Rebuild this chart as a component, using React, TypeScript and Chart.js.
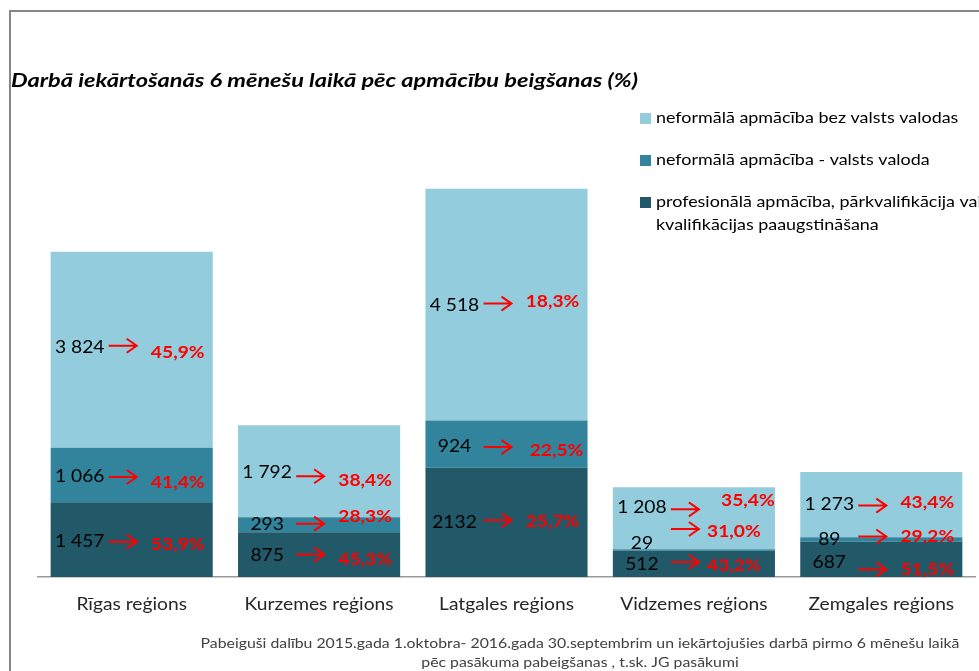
import React, { useEffect, useRef } from "react";
import { Chart, registerables } from "chart.js";

Chart.register(...registerables);

const categories = ["Rīgas reģions", "Kurzemes reģions", "Latgales reģions", "Vidzemes reģions", "Zemgales reģions"];

// series values (bottom to top in stack)
const profValues = [1457, 875, 2132, 512, 687];
const valstsValues = [1066, 293, 924, 29, 89];
const bezValues = [3824, 1792, 4518, 1208, 1273];

// displayed count labels
const profText = ["1 457", "875", "2132", "512", "687"];
const valstsText = ["1 066", "293", "924", "29", "89"];
const bezText = ["3 824", "1 792", "4 518", "1 208", "1 273"];

// displayed percentage labels
const profPct = ["53,9%", "45,3%", "25,7%", "43,2%", "51,5%"];
const valstsPct = ["41,4%", "28,3%", "22,5%", "31,0%", "29,2%"];
const bezPct = ["45,9%", "38,4%", "18,3%", "35,4%", "43,4%"];

const seriesNames = [
  ["profesionālā apmācība, pārkvalifikācija vai", "kvalifikācijas paaugstināšana"],
  ["neformālā apmācība - valsts valoda"],
  ["neformālā apmācība bez valsts valodas"],
];

const titleText = "Darbā iekārtošanās 6 mēnešu laikā pēc apmācību beigšanas (%)";
const footLines = [
  "Pabeiguši dalību 2015.gada 1.oktobra- 2016.gada 30.septembrim un iekārtojušies darbā pirmo 6 mēnešu laikā",
  "pēc pasākuma pabeigšanas , t.sk. JG pasākumi",
];

const colors = ["#215968", "#31849B", "#93CDDD"];
const FONT = "Lato, 'Open Sans', sans-serif";
const SX = 1.13; // horizontal stretch to mimic the wider original typeface

// label vertical shifts relative to segment centre: [number, arrow, percent]
const labelShift = [
  [[2, 2, 5], [1, 0, 5], [0, -2, -1], [1, -2, 2], [3, 10, 10]],
  [[2, 2, 8], [0, -1, -8], [2, 3, 6], [-7, -21, -19], [0, -3, -3]],
  [[-2, -4, 3], [1, 5, 9], [1, -1, -3], [-11, -9, -18], [0, 1, -2]],
];
const pctDx = [
  [0, 0, 0, -6, 0],
  [0, 0, 4, -6, 0],
  [0, 0, 0, 8, 0],
];

const texts = [profText, valstsText, bezText];
const pcts = [profPct, valstsPct, bezPct];

function drawText(ctx: CanvasRenderingContext2D, text: string, x: number, y: number, font: string, color: string, align: CanvasTextAlign, sx: number) {
  ctx.save();
  ctx.font = font;
  ctx.fillStyle = color;
  ctx.textAlign = align;
  ctx.textBaseline = "middle";
  ctx.translate(x, y);
  ctx.scale(sx, 1);
  ctx.fillText(text, 0, 0);
  ctx.restore();
}

const decorPlugin = {
  id: "decor",
  afterDatasetsDraw(chart: any) {
    const ctx = chart.ctx;
    ctx.save();
    chart.data.datasets.forEach((ds: any, i: number) => {
      const meta = chart.getDatasetMeta(i);
      meta.data.forEach((bar: any, j: number) => {
        const cy = (bar.y + bar.base) / 2;
        const sh = labelShift[i][j];
        const cx = bar.x;
        drawText(ctx, texts[i][j], cx - 52, cy + sh[0], `17px ${FONT}`, "#000", "center", SX);
        const ay = cy + sh[1];
        const x1 = cx - 23;
        const x2 = cx + 5;
        ctx.strokeStyle = "#FF0000";
        ctx.lineWidth = 2;
        ctx.beginPath();
        ctx.moveTo(x1, ay);
        ctx.lineTo(x2, ay);
        ctx.moveTo(x2 - 10, ay - 7);
        ctx.lineTo(x2, ay);
        ctx.lineTo(x2 - 10, ay + 7);
        ctx.stroke();
        drawText(ctx, pcts[i][j], cx + 46 + pctDx[i][j], cy + sh[2], `bold 17px ${FONT}`, "#FF0000", "center", SX);
      });
    });
    ctx.restore();
  },
  afterDraw(chart: any) {
    const ctx = chart.ctx;
    ctx.save();
    // frame
    ctx.strokeStyle = "#878787";
    ctx.lineWidth = 2;
    ctx.beginPath();
    ctx.moveTo(10, 700);
    ctx.lineTo(10, 11);
    ctx.lineTo(1000, 11);
    ctx.stroke();
    // title
    const tFont = `italic bold 18px ${FONT}`;
    ctx.font = tFont;
    const tw = ctx.measureText(titleText).width;
    drawText(ctx, titleText, 11, 81, tFont, "#000", "left", 627 / tw);
    // category labels from the x scale
    const xs = chart.scales.x;
    categories.forEach((c, j) => {
      drawText(ctx, c, xs.getPixelForValue(j), 605, `17px ${FONT}`, "#262626", "center", SX);
    });
    // legend (reverse order)
    const legendY = [118, 160, 202];
    const order = [2, 1, 0];
    order.forEach((dsIndex, k) => {
      const y = legendY[k];
      ctx.fillStyle = colors[dsIndex];
      ctx.fillRect(640, y - 5, 11, 11);
      seriesNames[dsIndex].forEach((line, li) => {
        drawText(ctx, line, 656, y + li * 23, `16px ${FONT}`, "#000", "left", 1.12);
      });
    });
    // footnote
    drawText(ctx, footLines[0], 580, 643, `14px ${FONT}`, "#404040", "center", SX);
    drawText(ctx, footLines[1], 580, 662, `14px ${FONT}`, "#404040", "center", SX);
    ctx.restore();
  },
};

export default function App() {
  const ref = useRef<HTMLCanvasElement>(null);
  useEffect(() => {
    document.body.style.margin = "0";
    const chart = new Chart(ref.current as HTMLCanvasElement, {
      type: "bar",
      data: {
        labels: categories,
        datasets: [
          { label: seriesNames[0].join(" "), data: profValues, backgroundColor: colors[0] },
          { label: seriesNames[1].join(" "), data: valstsValues, backgroundColor: colors[1] },
          { label: seriesNames[2].join(" "), data: bezValues, backgroundColor: colors[2] },
        ],
      },
      options: {
        responsive: false,
        animation: false,
        layout: { padding: { left: 38, right: 4, top: 167, bottom: 0 } },
        plugins: { legend: { display: false }, tooltip: { enabled: false }, title: { display: false } },
        datasets: { bar: { categoryPercentage: 1, barPercentage: 0.865 } },
        scales: {
          x: {
            stacked: true,
            grid: { display: false, drawTicks: false },
            border: { display: true, color: "#9a9a9a", width: 1.5 },
            ticks: { display: false },
            afterFit: (scale: any) => {
              scale.height = 94;
            },
          },
          y: {
            stacked: true,
            display: false,
            min: 0,
            max: 8000,
          },
        },
      },
      plugins: [decorPlugin],
    });
    return () => chart.destroy();
  }, []);
  return (
    <div style={{ width: 979, height: 671, background: "#fff" }}>
      <canvas ref={ref} width={979} height={671} style={{ display: "block" }} />
    </div>
  );
}
